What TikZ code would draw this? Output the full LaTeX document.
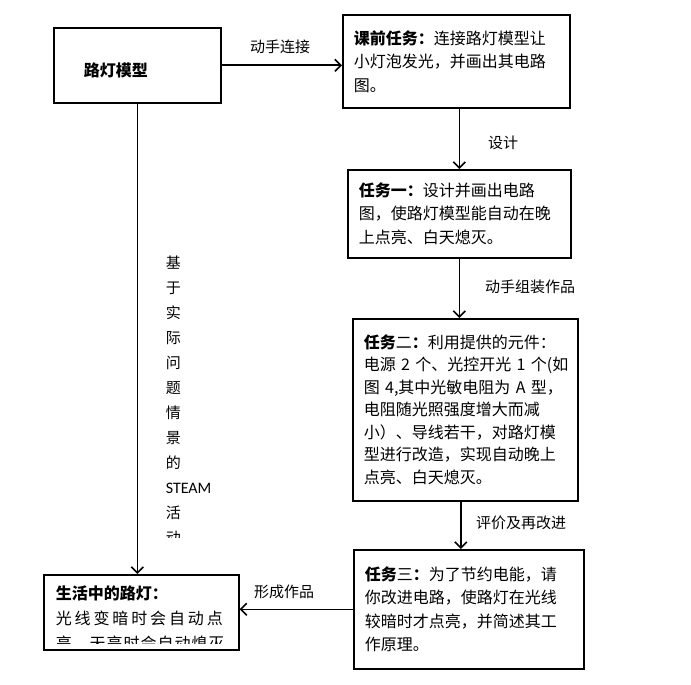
\documentclass[tikz,border=0pt]{standalone}
\usepackage{fontspec}
\setmainfont{Noto Sans CJK SC}
\newfontfamily\steamfont{Carlito}
\usetikzlibrary{arrows.meta}

\begin{document}
\begin{tikzpicture}[x=1pt, y=-1pt, line width=1.6pt, >={Straight Barb[length=6pt,width=12pt]},
    box/.style={draw, anchor=north west, align=left, inner xsep=11pt, inner ysep=0pt,
      font=\fontsize{16}{23.5}\selectfont},
    tag/.style={font=\fontsize{15}{18}\selectfont}]
  \useasboundingbox (0,0) rectangle (691,685);
  % boxes
  \node[box, inner xsep=30pt, text width=107, minimum height=75, text height=24pt, text depth=2pt] (model) at (53,27) {\textbf{路灯模型}};
  \node[box, text width=205, minimum height=93] (task0) at (342,14)
    {\textbf{课前任务：}连接路灯模型让\\小灯泡发光，并画出其电路\\图。};
  \node[box, text width=201, minimum height=88] (task1) at (347,169)
    {\textbf{任务一：}设计并画出电路\\图，使路灯模型能自动在晚\\上点亮、白天熄灭。};
  \node[box, text width=203, minimum height=182, font=\fontsize{16}{22.5}\selectfont] (task2) at (352,318)
    {\textbf{任务}二\textbf{：}利用提供的元件：\\电源~2~个、光控开光~1~个(如\\图~4,其中光敏电阻为~A~型，\\电阻随光照强度增大而减\\小）、导线若干，对路灯模\\型进行改造，实现自动晚上\\点亮、白天熄灭。};
  \node[box, text width=208, minimum height=119] (task3) at (353,549)
    {\textbf{任务}三\textbf{：}为了节约电能，请\\你改进电路，使路灯在光线\\较暗时才点亮，并简述其工\\作原理。};
  \node[box, text width=173, minimum height=75] (life) at (43,574) {};
  \begin{scope}
    \clip (life.north west) rectangle ([yshift=7pt]life.south east);
    \node[anchor=north west, align=left, inner sep=0pt, font=\fontsize{16}{25}\selectfont] (lifetext) at (55,585)
      {\textbf{生活中的路灯：}\\{\addfontfeature{LetterSpace=18}光线变暗时会自动点}\\{\addfontfeature{LetterSpace=6}亮，天亮时会自动熄灭}};
  \end{scope}
  % side text
  \begin{scope}
    \clip (150,240) rectangle (230,537);
    \node[anchor=north west, align=left, inner sep=0pt, font=\fontsize{15}{25}\selectfont] (steam) at (165,255)
      {基\\于\\实\\际\\问\\题\\情\\景\\的\\{\steamfont\fontsize{16}{25}\selectfont STEAM}\\活\\动};
  \end{scope}
  % arrows
  \draw[->] (model.east) -- (model.east -| task0.west);
  \draw[->] (task1.north |- task0.south) -- (task1.north);
  \draw[->] (task1.south) -- (task1.south |- task2.north);
  \draw[->] ([xshift=-4.5pt]task2.south) -- ([xshift=-4.5pt]task2.south |- task3.north);
  \draw[->] (task3.west) -- (task3.west -| life.east);
  \draw[->] (model.south) -- (model.south |- life.north);
  % labels
  \node[tag] (connect) at (280,47) {动手连接};
  \node[tag] (design) at (503,143) {设计};
  \node[tag] (assemble) at (530,287) {动手组装作品};
  \node[tag] (evaluate) at (521,523) {评价及再改进};
  \node[tag] (finish) at (284,592) {形成作品};
\end{tikzpicture}
\end{document}
